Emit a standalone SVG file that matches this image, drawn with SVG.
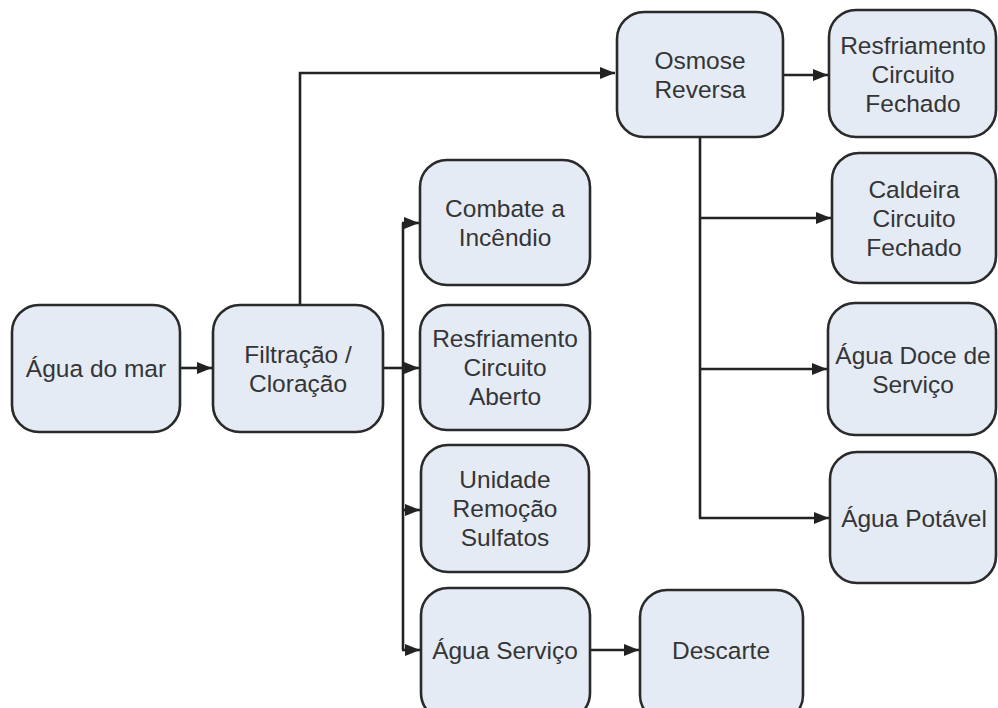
<svg xmlns="http://www.w3.org/2000/svg" width="998" height="708" viewBox="0 0 998 708">
  <defs>
    <style>
      .box { fill: #e4ebf5; stroke: #2a2a2a; stroke-width: 2.6; }
      .lbl { font-family: "Liberation Sans", Arial, sans-serif; font-size: 24.5px; fill: #353535; text-anchor: middle; dominant-baseline: central; }
      .wire { fill: none; stroke: #222222; stroke-width: 2.6; }
    </style>
    <marker id="arrow" viewBox="0 0 15 12" refX="15" refY="6" markerWidth="15" markerHeight="12" markerUnits="userSpaceOnUse" orient="auto">
      <path d="M0,0 L15,6 L0,12 Z" fill="#222222"/>
    </marker>
  </defs>
  <rect width="998" height="708" fill="#ffffff"/>

  <g id="connectors">
    <path class="wire" d="M180,368 H212" marker-end="url(#arrow)"/>
    <path class="wire" d="M300,305 V73 H615" marker-end="url(#arrow)"/>
    <path class="wire" d="M383,368 H403"/>
    <path class="wire" d="M403,223 V650"/>
    <path class="wire" d="M402,223 H419" marker-end="url(#arrow)"/>
    <path class="wire" d="M403,368 H419" marker-end="url(#arrow)"/>
    <path class="wire" d="M403,510 H420" marker-end="url(#arrow)"/>
    <path class="wire" d="M402,650 H420" marker-end="url(#arrow)"/>
    <path class="wire" d="M590,650 H639" marker-end="url(#arrow)"/>
    <path class="wire" d="M783,75 H828" marker-end="url(#arrow)"/>
    <path class="wire" d="M700,137 V518"/>
    <path class="wire" d="M700,218 H831" marker-end="url(#arrow)"/>
    <path class="wire" d="M700,369 H827" marker-end="url(#arrow)"/>
    <path class="wire" d="M699,518 H829" marker-end="url(#arrow)"/>
  </g>

  <g id="agua-do-mar">
    <rect class="box" x="12" y="305" width="168" height="127" rx="27"/>
    <text class="lbl" x="96" y="368">Água do mar</text>
  </g>
  <g id="filtracao">
    <rect class="box" x="213" y="305" width="170" height="127" rx="27"/>
    <text class="lbl" x="298" y="354">Filtração /</text>
    <text class="lbl" x="298" y="383">Cloração</text>
  </g>
  <g id="combate-incendio">
    <rect class="box" x="420" y="160" width="170" height="125" rx="27"/>
    <text class="lbl" x="505" y="208">Combate a</text>
    <text class="lbl" x="505" y="237">Incêndio</text>
  </g>
  <g id="resfriamento-aberto">
    <rect class="box" x="420" y="305" width="170" height="125" rx="27"/>
    <text class="lbl" x="505" y="338">Resfriamento</text>
    <text class="lbl" x="505" y="367">Circuito</text>
    <text class="lbl" x="505" y="396">Aberto</text>
  </g>
  <g id="remocao-sulfatos">
    <rect class="box" x="421" y="445" width="168" height="127" rx="27"/>
    <text class="lbl" x="505" y="479">Unidade</text>
    <text class="lbl" x="505" y="508">Remoção</text>
    <text class="lbl" x="505" y="537">Sulfatos</text>
  </g>
  <g id="agua-servico">
    <rect class="box" x="421" y="588" width="169" height="132" rx="27"/>
    <text class="lbl" x="505" y="650">Água Serviço</text>
  </g>
  <g id="descarte">
    <rect class="box" x="640" y="590" width="163" height="132" rx="27"/>
    <text class="lbl" x="721" y="650">Descarte</text>
  </g>
  <g id="osmose-reversa">
    <rect class="box" x="617" y="12" width="166" height="125" rx="27"/>
    <text class="lbl" x="700" y="60">Osmose</text>
    <text class="lbl" x="700" y="89">Reversa</text>
  </g>
  <g id="resfriamento-fechado">
    <rect class="box" x="829" y="10" width="167" height="127" rx="27"/>
    <text class="lbl" x="913" y="45">Resfriamento</text>
    <text class="lbl" x="913" y="74">Circuito</text>
    <text class="lbl" x="913" y="103">Fechado</text>
  </g>
  <g id="caldeira-fechado">
    <rect class="box" x="832" y="153" width="164" height="130" rx="27"/>
    <text class="lbl" x="914" y="189">Caldeira</text>
    <text class="lbl" x="914" y="218">Circuito</text>
    <text class="lbl" x="914" y="247">Fechado</text>
  </g>
  <g id="agua-doce-servico">
    <rect class="box" x="828" y="303" width="168" height="132" rx="27"/>
    <text class="lbl" x="913" y="355">Água Doce de</text>
    <text class="lbl" x="913" y="384">Serviço</text>
  </g>
  <g id="agua-potavel">
    <rect class="box" x="830" y="452" width="166" height="131" rx="27"/>
    <text class="lbl" x="914" y="518">Água Potável</text>
  </g>
</svg>
